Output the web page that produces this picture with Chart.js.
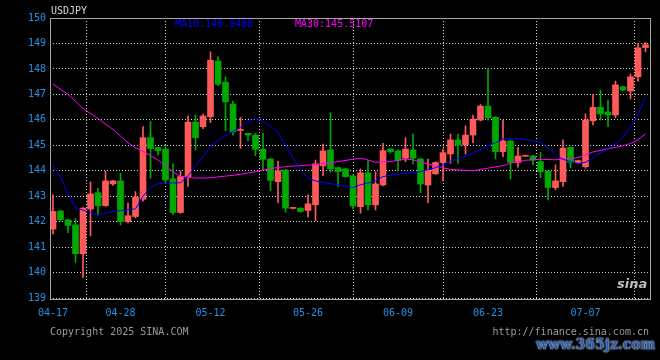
<!DOCTYPE html>
<html>
<head>
<meta charset="utf-8">
<script src="https://cdn.jsdelivr.net/npm/chart.js@4"></script>
<style>
  html, body { margin: 0; padding: 0; background: #000; }
  #wrap { position: relative; width: 660px; height: 360px; background: #000; overflow: hidden; }
  canvas { position: absolute; left: 0; top: 0; }
  .txt { position: absolute; font-family: 'DejaVu Sans Mono', monospace; font-size: 10px; line-height: 12px; white-space: nowrap; }
  #title { left: 51px; top: 5px; color: #d8d8d8; }
  #ma10txt { left: 175px; top: 18px; color: #0000ff; }
  #ma30txt { left: 295px; top: 18px; color: #ff00ff; }
  #copy { left: 50px; top: 326px; color: #9a9a9a; }
  #url { right: 11px; top: 326px; color: #9a9a9a; }
  #logo { left: 617px; top: 278px; color: #bdbdbd; font-family: 'DejaVu Sans', sans-serif; font-size: 13px; font-weight: bold; font-style: italic; }
  #mark { left: 536px; top: 336px; color: #2b5ea8; font-family: 'DejaVu Serif', serif; font-size: 14px; line-height: 16px; font-weight: bold;
          text-shadow: 0 0 2px #c8d4f0, 0 0 1px #c8d4f0; }
</style>
</head>
<body>
<div id="wrap">
  <canvas id="chart" width="660" height="360"></canvas>
  <div class="txt" id="title">USDJPY</div>
  <div class="txt" id="ma10txt"></div>
  <div class="txt" id="ma30txt"></div>
  <div class="txt" id="copy">Copyright 2025 SINA.COM</div>
  <div class="txt" id="url">http://finance.sina.com.cn</div>
  <div class="txt" id="logo">sina</div>
  <div class="txt" id="mark">www.365jz.com</div>
</div>
<script>
// trading days (Mon-Sat sessions, as sina shows them)
const dates = [
  '04-17','04-18','04-19','04-21','04-22','04-23','04-24','04-25','04-26','04-28',
  '04-29','04-30','05-01','05-02','05-03','05-05','05-06','05-07','05-08','05-09',
  '05-10','05-12','05-13','05-14','05-15','05-16','05-17','05-19','05-20','05-21',
  '05-22','05-23','05-24','05-25','05-26','05-27','05-28','05-29','05-30','05-31',
  '06-02','06-03','06-04','06-05','06-06','06-07','06-09','06-10','06-11','06-12',
  '06-13','06-14','06-16','06-17','06-18','06-19','06-20','06-21','06-23','06-24',
  '06-25','06-26','06-27','06-28','06-30','07-01','07-02','07-03','07-04','07-05',
  '07-06','07-07','07-08','07-09','07-10','07-11','07-12','07-14','07-15','07-16'
];

// OHLC
const open = [
  141.71,142.42,142.07,141.87,140.74,142.49,143.14,142.63,143.48,143.60,
  142.00,142.20,142.88,145.30,144.91,144.85,143.68,142.36,143.77,145.91,
  145.73,146.12,148.31,147.48,146.62,145.58,145.47,145.40,144.84,144.46,
  143.57,144.03,142.52,142.53,142.44,142.66,144.19,144.82,144.12,144.07,
  143.80,142.59,143.92,142.66,143.44,144.85,144.78,144.49,144.82,144.46,
  143.44,143.88,144.32,144.66,145.21,145.01,145.40,145.99,146.54,146.10,
  144.75,145.17,144.33,144.57,144.58,144.36,143.99,143.34,143.57,144.92,
  144.32,144.16,145.96,146.49,146.31,146.19,147.30,147.13,147.69,148.84
];
const high = [
  143.05,142.45,142.10,142.12,142.55,143.56,143.31,143.99,143.62,143.90,
  142.73,143.18,145.73,145.93,144.93,145.00,144.27,143.99,146.16,146.19,
  146.23,148.67,148.48,147.69,146.74,146.10,145.47,145.47,145.47,144.48,
  144.38,144.05,142.56,142.55,143.05,144.42,145.05,146.28,144.14,144.10,
  143.85,144.07,144.38,143.96,145.08,144.87,144.82,145.30,145.44,144.50,
  144.46,144.35,144.85,145.44,145.44,145.76,146.19,146.60,148.02,146.12,
  145.99,145.20,144.92,144.60,144.60,144.73,144.00,144.23,145.21,144.94,
  144.42,146.23,147.00,147.17,146.78,147.52,147.32,147.80,149.00,149.04
];
const low = [
  141.52,142.02,141.57,140.40,139.81,141.44,142.25,142.60,143.42,141.87,
  141.95,142.15,142.80,143.71,144.62,143.53,142.27,142.33,143.38,144.82,
  145.65,145.89,147.34,145.57,145.40,144.88,145.18,144.59,144.03,143.22,
  142.75,142.37,142.50,142.36,142.18,142.04,143.81,143.94,143.38,143.74,
  142.50,142.33,142.46,142.46,143.40,144.70,143.99,144.36,144.27,143.14,
  142.75,143.85,143.60,144.29,144.29,144.66,145.10,145.96,145.99,144.46,
  144.55,143.68,144.14,144.56,144.23,143.73,142.85,143.25,143.38,144.12,
  144.30,144.10,145.80,145.99,145.73,146.08,147.15,146.82,147.52,148.67
];
const close = [
  142.40,142.07,141.85,140.74,142.53,143.09,142.62,143.60,143.60,142.00,
  142.23,142.96,145.30,144.87,144.79,143.64,142.36,143.77,145.91,145.30,
  146.15,148.34,147.40,146.71,145.53,145.62,145.40,144.84,144.45,143.62,
  143.99,142.53,142.54,142.40,142.70,144.27,144.78,144.07,143.96,143.77,
  142.62,143.92,142.66,143.48,144.79,144.75,144.40,144.85,144.49,143.48,
  144.03,144.32,144.71,145.21,145.01,145.40,146.03,146.54,146.08,144.75,
  145.17,144.33,144.58,144.59,144.42,143.96,143.34,143.60,144.89,144.33,
  144.40,145.99,146.49,146.23,146.19,147.37,147.17,147.69,148.83,148.95
];

// moving averages: [day index, value]
const ma10 = [
  [0,144.2],[1,143.75],[2,143.1],[3,142.55],[5,142.35],[6,142.27],[8,142.4],[11,142.5],
  [12,143.0],[13,143.35],[14,143.5],[17,143.53],[18,143.8],[19,144.2],[20,144.55],[21,144.95],
  [22,145.2],[24,145.55],[25,145.71],[26,145.93],[27,146.05],[28,145.95],[29,145.75],[30,145.5],
  [31,145.0],[32,144.5],[33,144.05],[34,143.7],[35,143.6],[36,143.53],[38,143.45],[40,143.34],
  [41,143.45],[42,143.52],[43,143.6],[44,143.77],[45,143.82],[47,143.9],[49,143.96],[51,144.12],
  [52,144.22],[53,144.38],[55,144.57],[56,144.68],[58,144.98],[59,145.1],[60,145.25],[62,145.27],
  [64,145.17],[65,145.12],[66,144.9],[67,144.65],[68,144.45],[69,144.36],[70,144.28],[71,144.33],
  [72,144.5],[73,144.7],[74,144.85],[75,145.05],[76,145.32],[77,145.7],[78,146.2],[79,146.9]
];
const ma30 = [
  [0,147.4],[2,147.0],[4,146.45],[6,146.05],[8,145.62],[10,145.1],[11,144.9],[12,144.77],
  [14,144.42],[15,144.2],[16,143.95],[17,143.78],[19,143.71],[21,143.72],[22,143.76],[24,143.82],
  [25,143.86],[27,143.96],[28,144.03],[30,144.13],[32,144.18],[35,144.24],[37,144.31],[38,144.36],
  [40,144.45],[41,144.49],[42,144.42],[43,144.33],[45,144.36],[47,144.46],[48,144.43],[49,144.34],
  [51,144.2],[52,144.12],[53,144.05],[56,144.0],[58,144.1],[60,144.2],[61,144.29],[63,144.41],
  [65,144.45],[67,144.43],[69,144.47],[70,144.52],[71,144.62],[72,144.74],[74,144.86],[76,144.98],
  [77,145.07],[78,145.22],[79,145.45]
];
const maLegend = ['MA10:146.9488', 'MA30:145.5107'];

// where the date labels sit and the price ticks
const dateTicks = [0, 9, 21, 34, 46, 58, 71];
const priceTicks = [139, 140, 141, 142, 143, 144, 145, 146, 147, 148, 149, 150];

const upColor = '#ff5a5a';
const downColor = '#00a800';
const candleColors = open.map((o, i) => close[i] >= o ? upColor : downColor);

document.getElementById('ma10txt').textContent = maLegend[0];
document.getElementById('ma30txt').textContent = maLegend[1];

// gray frame round the plot
const framePlugin = {
  id: 'frame',
  afterDraw(chart) {
    const { ctx, chartArea: a } = chart;
    ctx.save();
    ctx.strokeStyle = '#a8a8a8';
    ctx.lineWidth = 1;
    ctx.strokeRect(Math.round(a.left) + 0.5, Math.round(a.top) + 0.5,
      Math.round(a.right - a.left), Math.round(a.bottom - a.top) + 1);
    ctx.restore();
  }
};

const ctx = document.getElementById('chart').getContext('2d');
new Chart(ctx, {
  type: 'bar',
  data: {
    datasets: [
      {
        type: 'line',
        label: 'MA10',
        data: ma10.map(p => ({ x: p[0], y: p[1] })),
        borderColor: '#0000ff',
        borderWidth: 1,
        pointRadius: 0,
        tension: 0,
        order: 0
      },
      {
        type: 'line',
        label: 'MA30',
        data: ma30.map(p => ({ x: p[0], y: p[1] })),
        borderColor: '#ff00ff',
        borderWidth: 1,
        pointRadius: 0,
        tension: 0,
        order: 1
      },
      {
        label: 'body',
        data: open.map((o, i) => ({ x: i, y: [o, close[i]] })),
        backgroundColor: candleColors,
        barThickness: 6,
        minBarLength: 1,
        grouped: false,
        order: 2
      },
      {
        label: 'wick',
        data: open.map((o, i) => ({ x: i, y: [low[i], high[i]] })),
        backgroundColor: candleColors,
        barThickness: 1,
        grouped: false,
        order: 3
      }
    ]
  },
  options: {
    responsive: false,
    animation: false,
    layout: { padding: { left: 0, top: 18, right: 10, bottom: 0 } },
    plugins: {
      legend: { display: false },
      tooltip: { enabled: false },
      title: { display: false }
    },
    scales: {
      x: {
        type: 'linear',
        min: -0.4,
        max: 79.6,
        offset: false,
        afterFit(scale) { scale.height = 62; },
        afterBuildTicks(scale) { scale.ticks = dateTicks.map(v => ({ value: v })); },
        ticks: {
          autoSkip: false,
          maxRotation: 0,
          padding: 9,
          color: '#2490e8',
          font: { family: 'DejaVu Sans Mono', size: 10 },
          callback: v => dates[v]
        },
        grid: {
          color: c => c.index === 0 ? 'rgba(0,0,0,0)' : '#d8d8d8',
          drawTicks: false
        },
        border: { display: false, dash: [1, 2] }
      },
      y: {
        type: 'linear',
        min: 139,
        max: 150,
        afterFit(scale) { scale.width = 50; },
        afterBuildTicks(scale) { scale.ticks = priceTicks.map(v => ({ value: v })); },
        ticks: {
          padding: 4,
          color: '#2490e8',
          font: { family: 'DejaVu Sans Mono', size: 10 }
        },
        grid: { color: '#d8d8d8', drawTicks: false },
        border: { display: false, dash: [1, 2] }
      }
    }
  },
  plugins: [framePlugin]
});
</script>
</body>
</html>
